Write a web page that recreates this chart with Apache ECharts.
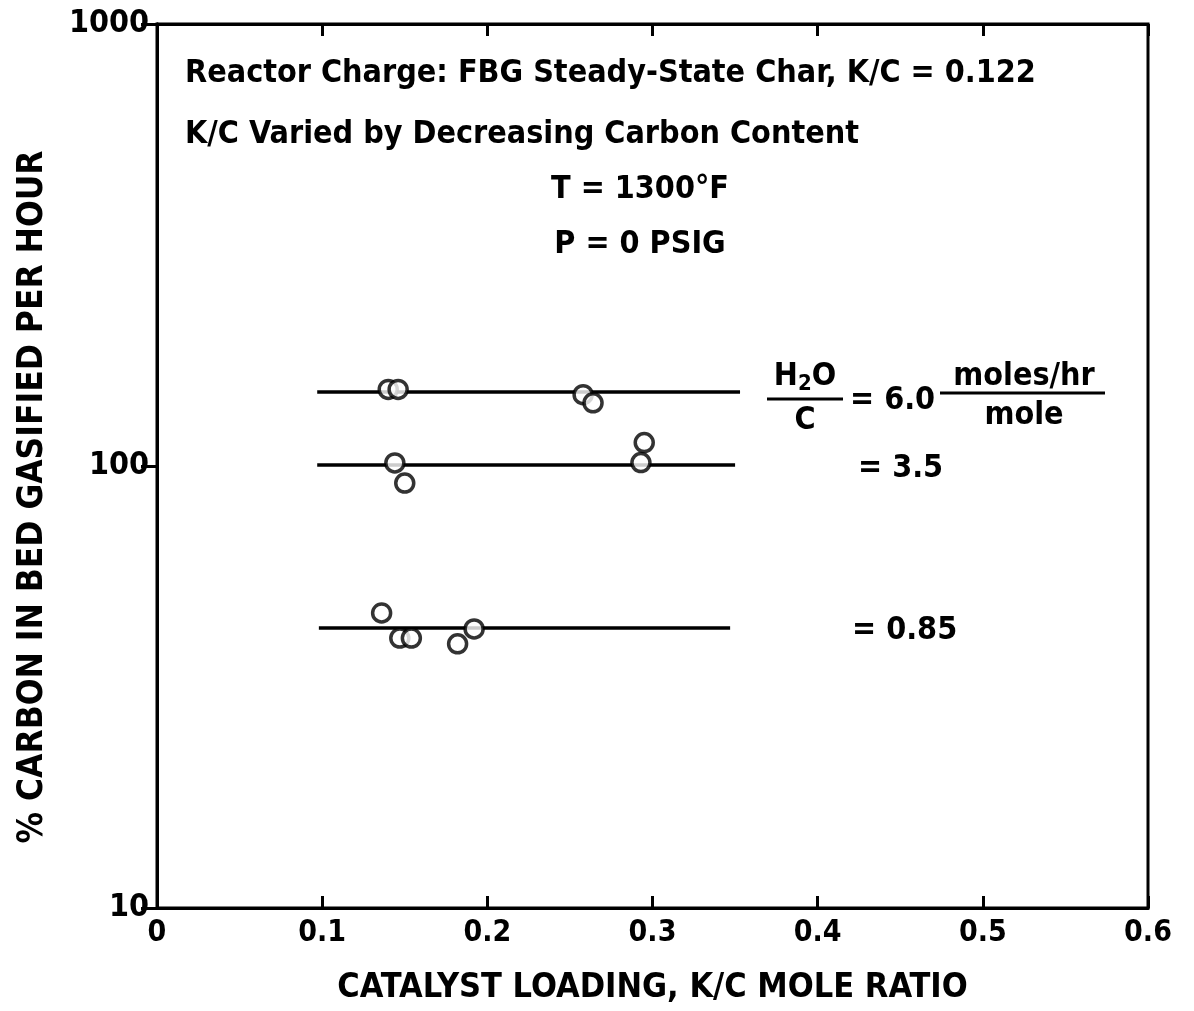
<!DOCTYPE html>
<html>
<head>
<meta charset="utf-8">
<script src="https://cdn.jsdelivr.net/npm/echarts@6/dist/echarts.min.js"></script>
<style>html,body{margin:0;padding:0;background:#fff}#c{width:1194px;height:1011px}</style>
</head>
<body>
<div id="c"></div>
<script>
// ---- data ----
const xTicks = [0, 0.1, 0.2, 0.3, 0.4, 0.5, 0.6];
const yTicks = [10, 100, 1000];
// H2O/C = 6.0
const pts60 = [[0.140, 149], [0.146, 149], [0.258, 145], [0.264, 139]];
const line60 = [[0.097, 147], [0.353, 147]];
// H2O/C = 3.5
const pts35 = [[0.144, 101.6], [0.150, 91.5], [0.293, 101.8], [0.295, 113]];
const line35 = [[0.097, 100.5], [0.350, 100.5]];
// H2O/C = 0.85
const pts085 = [[0.136, 46.5], [0.147, 40.8], [0.154, 40.8], [0.182, 39.6], [0.192, 42.8]];
const line085 = [[0.098, 43.0], [0.347, 43.0]];

const FONT = '"DejaVu Sans Condensed", "Liberation Sans Narrow", "DejaVu Sans", sans-serif';
const chart = echarts.init(document.getElementById('c'));

function lineS(d) {
  return { type: 'line', data: d, symbol: 'none', silent: true, z: 2,
    lineStyle: { color: '#000', width: 3.5 } };
}
function ptS(d) {
  return { type: 'scatter', data: d, symbol: 'circle', symbolSize: 18, z: 3,
    itemStyle: { color: '#fff', borderColor: '#000', borderWidth: 3.5 } };
}
const txt = (x, y, s, size, align) => ({ type: 'text', x: x, y: y,
  style: { text: s, fill: '#000', font: 'bold ' + size + 'px ' + FONT, textAlign: align || 'left', textVerticalAlign: 'middle' } });

chart.setOption({
  animation: false,
  backgroundColor: '#fff',
  grid: { left: 157, right: 46, top: 24, bottom: 103, show: true, borderColor: '#000', borderWidth: 3 },
  xAxis: [{
    type: 'value', min: 0, max: 0.6, interval: 0.1, position: 'bottom',
    axisLine: { show: true, lineStyle: { color: '#000', width: 3 } },
    axisTick: { show: true, inside: true, length: 12, lineStyle: { color: '#000', width: 3 } },
    axisLabel: { color: '#000', fontSize: 30, fontWeight: 'bold', fontFamily: FONT, margin: 10,
      formatter: v => { const t = xTicks.find(k => Math.abs(k - v) < 1e-9); return t === undefined ? '' : String(t); } },
    splitLine: { show: false },
    name: 'CATALYST LOADING, K/C MOLE RATIO', nameLocation: 'middle', nameGap: 63,
    nameTextStyle: { color: '#000', fontSize: 34, fontWeight: 'bold', fontFamily: FONT }
  }, {
    type: 'value', min: 0, max: 0.6, interval: 0.1, position: 'top',
    axisLine: { show: true, lineStyle: { color: '#000', width: 3 } },
    axisTick: { show: true, inside: true, length: 12, lineStyle: { color: '#000', width: 3 } },
    axisLabel: { show: false }, splitLine: { show: false }
  }],
  yAxis: [{
    type: 'log', logBase: 10, min: 10, max: 1000, position: 'left',
    axisLine: { show: true, lineStyle: { color: '#000', width: 3 } },
    axisTick: { show: false },
    minorTick: { show: false },
    axisLabel: { color: '#000', fontSize: 32, fontWeight: 'bold', fontFamily: FONT, margin: 8,
      formatter: v => { const t = yTicks.find(k => Math.abs(k - v) < 1e-6 * k); return t === undefined ? '' : String(t); } },
    splitLine: { show: false }
  }, {
    type: 'log', logBase: 10, min: 10, max: 1000, position: 'right',
    axisLine: { show: true, lineStyle: { color: '#000', width: 3 } },
    axisTick: { show: true, inside: true, length: 16, lineStyle: { color: '#000', width: 3 } },
    minorTick: { show: false }, axisLabel: { show: false }, splitLine: { show: false }
  }],
  series: [lineS(line60), lineS(line35), lineS(line085), ptS(pts60), ptS(pts35), ptS(pts085)],
  graphic: [
    { type: 'text', x: 33, y: 497, rotation: Math.PI / 2,
      style: { text: '% CARBON IN BED GASIFIED PER HOUR', fill: '#000', font: 'bold 35px ' + FONT, textAlign: 'center', textVerticalAlign: 'middle' } },
    txt(185, 74, 'Reactor Charge: FBG Steady-State Char, K/C = 0.122', 32),
    txt(185, 135, 'K/C Varied by Decreasing Carbon Content', 32),
    txt(640, 190, 'T = 1300°F', 32, 'center'),
    txt(640, 245, 'P = 0 PSIG', 32, 'center'),
    { type: 'text', x: 805, y: 377, style: { rich: { b: { font: 'bold 32px ' + FONT }, s: { font: 'bold 22px ' + FONT, padding: [14, 0, 0, 0] } },
        text: '{b|H}{s|2}{b|O}', fill: '#000', textAlign: 'center', textVerticalAlign: 'middle' } },
    { type: 'line', shape: { x1: 767, y1: 399, x2: 843, y2: 399 }, style: { stroke: '#000', lineWidth: 3 } },
    txt(805, 421, 'C', 32, 'center'),
    txt(850, 401, '= 6.0', 32),
    txt(1024, 377, 'moles/hr', 32, 'center'),
    { type: 'line', shape: { x1: 940, y1: 393, x2: 1105, y2: 393 }, style: { stroke: '#000', lineWidth: 3 } },
    txt(1024, 416, 'mole', 32, 'center'),
    txt(858, 469, '= 3.5', 32),
    txt(852, 631, '= 0.85', 32)
  ]
});
</script>
</body>
</html>
